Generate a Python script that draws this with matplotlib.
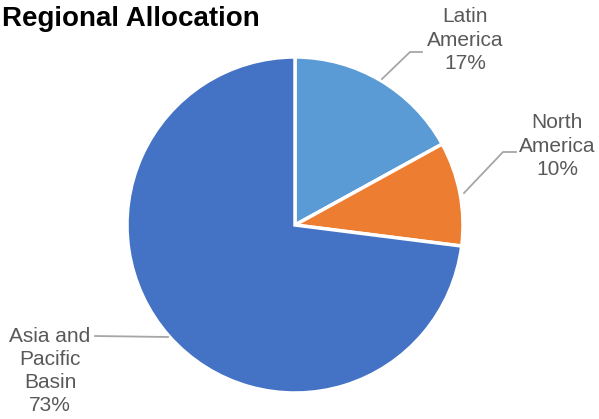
import matplotlib.pyplot as plt

# data
regions = ["Latin\nAmerica", "North\nAmerica", "Asia and\nPacific\nBasin"]
shares = [17, 10, 73]
colors = ["#5B9BD5", "#ED7D31", "#4472C4"]

plt.rcParams["font.family"] = ["Liberation Sans", "DejaVu Sans"]

W, H = 599, 419
fig = plt.figure(figsize=(W / 100, H / 100), dpi=100)
ax = fig.add_axes([0, 0, 1, 1])

# pie in pixel coordinates (y flipped)
cx, cy, r = 295, H - 225, 168
ax.pie(shares, colors=colors, startangle=90, counterclock=False,
       center=(cx, cy), radius=r, frame=True,
       wedgeprops=dict(edgecolor="white", linewidth=2.5))
ax.set_xlim(0, W)
ax.set_ylim(0, H)
ax.set_aspect("equal")
ax.axis("off")

# labels and leader lines
label_pos = [(465, H - 40), (557, H - 146), (50, H - 371)]
leaders = [
    [(382, 79), (410, 52), (422, 52)],
    [(464, 193), (503, 152), (516, 152)],
    [(168, 337), (95, 336)],
]
for name, val, (tx, ty), pts in zip(regions, shares, label_pos, leaders):
    ax.text(tx, ty, f"{name}\n{val}%", ha="center", va="center",
            fontsize=15, color="#595959", linespacing=1.28)
    xs = [p[0] for p in pts]
    ys = [H - p[1] for p in pts]
    ax.plot(xs, ys, color="#A6A6A6", linewidth=1.3)

fig.text(2 / W, 1 - 19 / H, "Regional Allocation", fontsize=20,
         fontweight="bold", color="black", ha="left", va="center")

fig.savefig("out.png", dpi=100)
